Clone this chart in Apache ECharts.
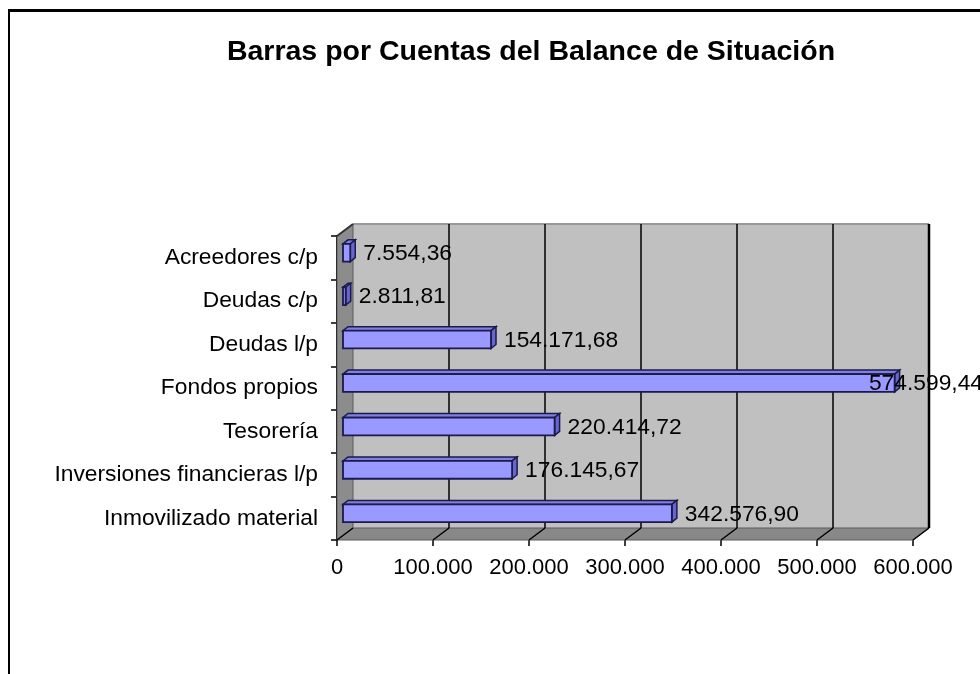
<!DOCTYPE html>
<html><head><meta charset="utf-8">
<script src="https://cdn.jsdelivr.net/npm/echarts@6/dist/echarts.min.js"></script>
<style>html,body{margin:0;padding:0;background:#fff}#c{width:980px;height:674px}</style>
</head><body><div id="c"></div>
<script>
const categories = ['Acreedores c/p','Deudas c/p','Deudas l/p','Fondos propios','Tesorería','Inversiones financieras l/p','Inmovilizado material'];
const values = [7554.36, 2811.81, 154171.68, 574599.44, 220414.72, 176145.67, 342576.90];
const xTicks = [0, 100000, 200000, 300000, 400000, 500000, 600000];
const titleText = 'Barras por Cuentas del Balance de Situación';

function fmtEs(v, dec){
  const fixed = Number(v).toFixed(dec);
  let parts = fixed.split('.');
  let i = parts[0].replace(/\B(?=(\d{3})+(?!\d))/g, '.');
  return parts[1] ? i + ',' + parts[1] : i;
}
const FONT = '"Liberation Sans", Arial, sans-serif';
const DX = 16, DY = -12;

function backdrop(params, api){
  const cs = params.coordSys;
  const L = cs.x, T = cs.y, R = cs.x + cs.width, B = cs.y + cs.height;
  const ch = [];
  ch.push({type:'rect', shape:{x:L+DX, y:T+DY, width:cs.width, height:cs.height}, style:{fill:'#c0c0c0'}});
  ch.push({type:'line', shape:{x1:L+DX, y1:T+DY, x2:R+DX, y2:T+DY}, style:{stroke:'#999999', lineWidth:2}});
  ch.push({type:'polygon', shape:{points:[[L,T],[L+DX,T+DY],[L+DX,B+DY],[L,B]]}, style:{fill:'#8c8c8c', stroke:'#5a5a5a', lineWidth:1}});
  ch.push({type:'line', shape:{x1:L, y1:T, x2:L+DX, y2:T+DY}, style:{stroke:'#333', lineWidth:2}});
  ch.push({type:'polygon', shape:{points:[[L,B],[L+DX,B+DY],[R+DX,B+DY],[R,B]]}, style:{fill:'#888888', stroke:'#5a5a5a', lineWidth:1}});
  xTicks.forEach(function(v, k){
    const x = api.coord([v, 0])[0];
    if (k > 0) ch.push({type:'line', shape:{x1:x+DX, y1:T+DY, x2:x+DX, y2:B+DY}, style:{stroke:'#000', lineWidth: k === xTicks.length-1 ? 2.5 : 1.5}});
    ch.push({type:'line', shape:{x1:x+DX, y1:B+DY, x2:x, y2:B}, style:{stroke:'#000', lineWidth:1.5}});
  });
  return {type:'group', children: ch};
}

function bar3d(params, api){
  const v = api.value(0), ci = api.value(1);
  const s = api.coord([0, ci]), e = api.coord([v, ci]);
  const band = api.size([0, 1])[1];
  const h = band * 0.41;
  const ox = 6, oy = -5, bx = 5, by = -4;
  const x0 = s[0] + ox, x1 = e[0] + ox, yc = s[1] + oy;
  const yt = yc - h/2, yb = yc + h/2;
  const stroke = '#1a1a4d';
  const txt = fmtEs(v, 2);
  const W = api.getWidth();
  let tx = x1 + 13, align = 'left';
  if (tx + txt.length * 11.5 > W) { tx = W + 3; align = 'right'; }
  return {type:'group', children:[
    {type:'polygon', shape:{points:[[x0,yt],[x1,yt],[x1+bx,yt+by],[x0+bx,yt+by]]}, style:{fill:'#8080e0', stroke:stroke, lineWidth:1.5}},
    {type:'polygon', shape:{points:[[x1,yt],[x1+bx,yt+by],[x1+bx,yb+by],[x1,yb]]}, style:{fill:'#6666cc', stroke:stroke, lineWidth:1.5}},
    {type:'rect', shape:{x:x0, y:yt, width:Math.max(x1-x0, 0.5), height:h}, style:{fill:'#9999ff', stroke:stroke, lineWidth:1.8}},
    {type:'text', z2:10, style:{x:tx, y:yc + 1, text:txt, fill:'#000', font:'22.8px ' + FONT, align:align, verticalAlign:'middle'}}
  ]};
}

const chart = echarts.init(document.getElementById('c'), null, {renderer:'canvas'});
chart.setOption({
  animation: false,
  backgroundColor: '#ffffff',
  title: {text: titleText, left: 531, top: 38, textAlign: 'center', padding: 0,
    textStyle: {fontFamily: FONT, fontSize: 28.5, fontWeight: 'bold', color: '#000'}},
  graphic: [
    {type:'line', shape:{x1:8, y1:10.5, x2:980, y2:10.5}, style:{stroke:'#000', lineWidth:3}},
    {type:'line', shape:{x1:9, y1:10, x2:9, y2:674}, style:{stroke:'#000', lineWidth:2}}
  ],
  grid: {left: 337, top: 236, width: 576, height: 304, containLabel: false},
  xAxis: {type:'value', min:0, max:600000, interval:100000,
    axisLine:{show:false}, splitLine:{show:false},
    axisTick:{show:true, length:6, lineStyle:{color:'#000', width:1.5}},
    axisLabel:{formatter: function(v){return fmtEs(v,0);}, fontFamily:FONT, fontSize:22, color:'#000', margin:17}},
  yAxis: {type:'category', data: categories, inverse: true,
    axisLine:{show:true, lineStyle:{color:'#000', width:2}},
    axisTick:{show:true, length:6, lineStyle:{color:'#000', width:1.5}},
    axisLabel:{fontFamily:FONT, fontSize:22.8, color:'#000', margin:19}},
  series: [
    {type:'custom', name:'fondo', renderItem: backdrop, data: [[0, 0]], z: 1, silent: true, clip: false},
    {type:'custom', name:'Cuentas', renderItem: bar3d, z: 3, clip: false,
      encode: {x: 0, y: 1},
      data: values.map(function(v, i){ return [v, i]; })}
  ]
});
</script></body></html>
